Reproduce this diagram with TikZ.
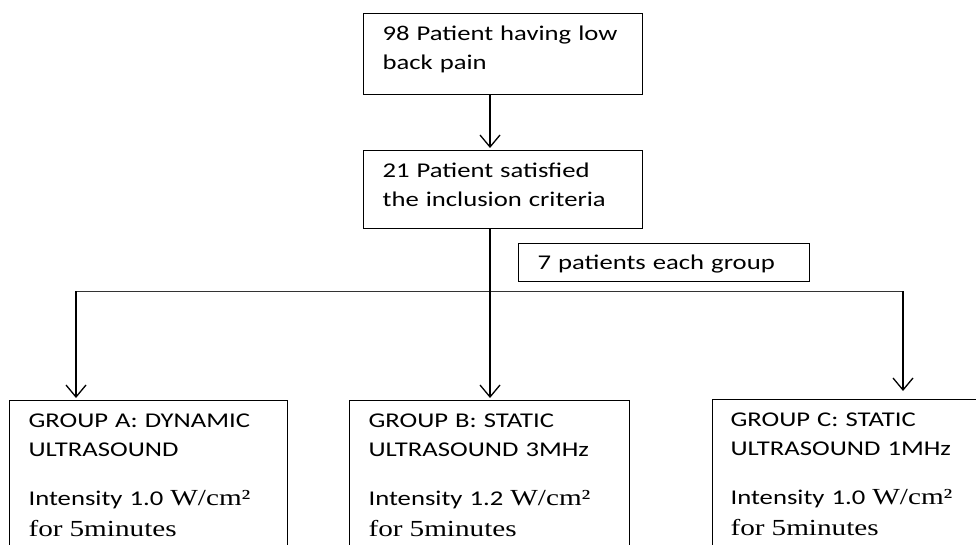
\documentclass[tikz,border=0pt]{standalone}
\usepackage{fontspec}
\setmainfont{Carlito}[FakeStretch=1.27]
\newfontfamily\tnrfont{Liberation Serif}[FakeStretch=1.27]
\newcommand{\tnrtext}[1]{{\tnrfont\fontsize{23}{29}\selectfont #1}}
\usepackage{tikz}
\usetikzlibrary{arrows.meta}

\begin{document}
\begin{tikzpicture}[x=1pt,y=-1pt,
    box/.style={draw,line width=1.2pt,anchor=north west,inner xsep=19pt,inner ysep=0pt,align=left,text height=27pt,font=\fontsize{21}{29}\selectfont},
    link/.style={line width=1.2pt},
    arr/.style={line width=1.3pt,-{Straight Barb[length=12pt,width=20pt,line width=1.3pt]}}]
  \useasboundingbox (0,0) rectangle (976,545);
  \clip (0,0) rectangle (976,545);

  \node[box,text width=241pt,text depth=54pt] (pain) at (363,13) {98 Patient having low\\back pain};
  \node[box,text width=241pt,text depth=51pt] (incl) at (363,150) {21 Patient satisfied\\the inclusion criteria};
  \node[box,text width=253pt,text height=26pt,text depth=12pt] (each) at (518,243) {7 patients each group};

  \node[box,text width=240pt,text depth=200pt] (grpA) at (9,400) {GROUP A: DYNAMIC\\ULTRASOUND\\[20pt]Intensity 1.0 \tnrtext{W/cm²}\\[1.5pt]\tnrtext{for 5minutes}};
  \node[box,text width=242pt,text depth=200pt] (grpB) at (349,400) {GROUP B: STATIC\\ULTRASOUND 3MHz\\[20pt]Intensity 1.2 \tnrtext{W/cm²}\\[1.5pt]\tnrtext{for 5minutes}};
  \node[box,text width=264pt,text depth=200pt,inner xsep=18pt] (grpC) at (712,399) {GROUP C: STATIC\\ULTRASOUND 1MHz\\[20pt]Intensity 1.0 \tnrtext{W/cm²}\\[1.5pt]\tnrtext{for 5minutes}};

  \coordinate (split) at (490,291);
  \coordinate (westend) at (76,291);
  \coordinate (eastend) at (903,291);

  \draw[arr,shorten >=2pt] (pain.south -| split) -- (incl.north -| split);
  \draw[link] (incl.south -| split) -- (split);
  \draw[link,line width=0.9pt,black!80] (westend) -- (eastend);
  \draw[arr,shorten >=2pt] (westend) -- (grpA.north -| westend);
  \draw[arr,shorten >=2pt] (split) -- (grpB.north -| split);
  \draw[arr,shorten >=8pt] (eastend) -- (grpC.north -| eastend);
\end{tikzpicture}
\end{document}
